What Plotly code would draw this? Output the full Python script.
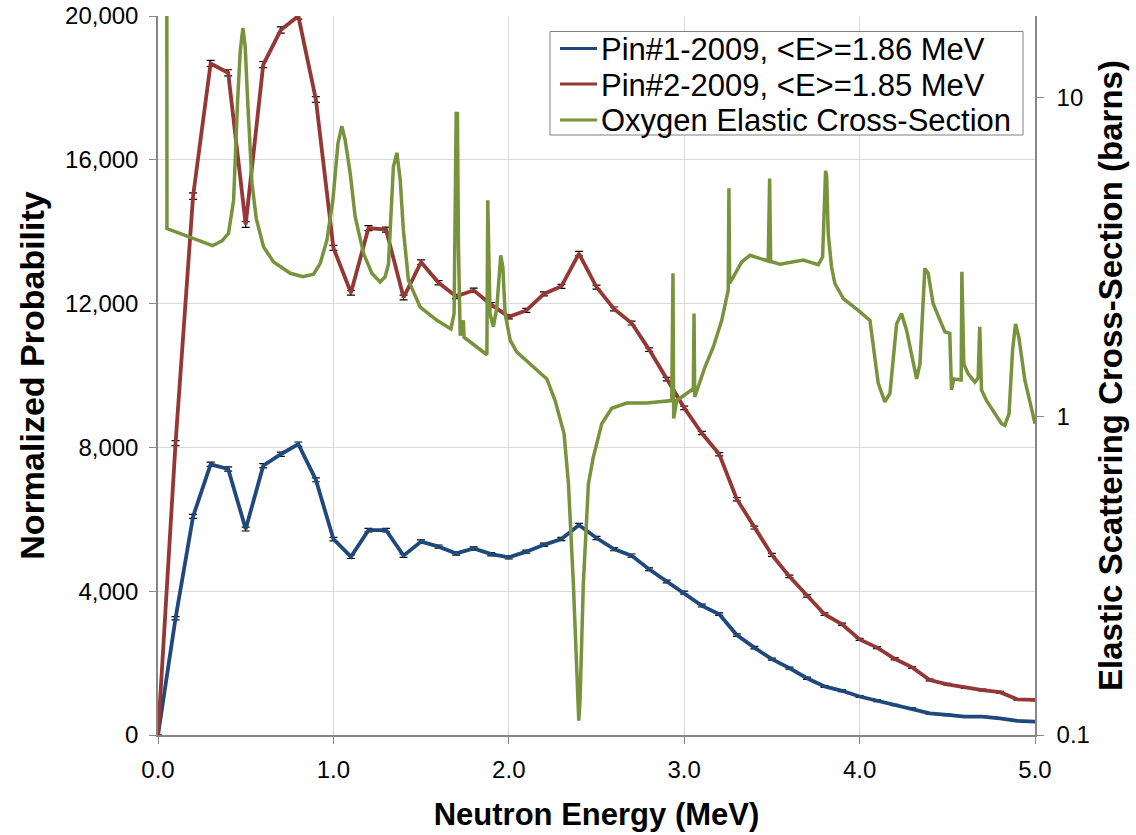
import plotly.graph_objects as go

# ---------------- data ----------------
energy = [0.0, 0.1, 0.2, 0.3, 0.4, 0.5, 0.6, 0.7, 0.8, 0.9,
          1.0, 1.1, 1.2, 1.3, 1.4, 1.5, 1.6, 1.7, 1.8, 1.9,
          2.0, 2.1, 2.2, 2.3, 2.4, 2.5, 2.6, 2.7, 2.8, 2.9,
          3.0, 3.1, 3.2, 3.3, 3.4, 3.5, 3.6, 3.7, 3.8, 3.9,
          4.0, 4.1, 4.2, 4.3, 4.4, 4.5, 4.6, 4.7, 4.8, 4.9, 5.0]

pin1 = [0, 3250, 6080, 7530, 7400, 5730, 7490, 7810, 8090, 7100,
        5450, 4960, 5700, 5700, 4990, 5380, 5240, 5050, 5190, 5030,
        4940, 5100, 5290, 5450, 5840, 5480, 5170, 4990, 4610, 4270,
        3960, 3600, 3360, 2780, 2430, 2110, 1860, 1580, 1350, 1230,
        1070, 950, 835, 735, 600, 560, 510, 510, 465, 390, 370]

pin1_err = [0, 45, 55, 60, 60, 55, 60, 60, 60, 55,
            50, 50, 50, 50, 50, 50, 45, 45, 45, 45,
            45, 45, 45, 45, 45, 45, 45, 45, 40, 40,
            40, 40, 35, 35, 35, 30, 30, 30, 25, 25,
            25, 25, 20, 20, 20, 20, 20, 20, 20, 15, 15]

pin2 = [0, 8120, 14990, 18680, 18420, 14200, 18650, 19610, 20000, 17680,
        13550, 12300, 14100, 14060, 12170, 13150, 12580, 12200, 12370, 11970,
        11630, 11810, 12270, 12480, 13390, 12460, 11850, 11460, 10720, 9900,
        9100, 8400, 7810, 6560, 5770, 5010, 4410, 3870, 3360, 3080,
        2660, 2430, 2120, 1880, 1530, 1410, 1320, 1250, 1190, 990, 975]

pin2_err = [0, 70, 90, 85, 85, 80, 85, 85, 85, 80,
            70, 65, 70, 70, 65, 65, 60, 60, 60, 60,
            55, 55, 55, 55, 60, 55, 55, 55, 50, 50,
            50, 45, 45, 45, 40, 40, 35, 35, 35, 30,
            30, 30, 30, 25, 25, 25, 25, 25, 25, 20, 20]

oxy_energy = [0.050, 0.051, 0.311, 0.365, 0.402, 0.431, 0.454, 0.469, 0.484, 0.497,
              0.511, 0.536, 0.560, 0.602, 0.659, 0.754, 0.826, 0.887, 0.925, 0.963,
              0.997, 1.026, 1.048, 1.067, 1.096, 1.124, 1.172, 1.219, 1.267, 1.295,
              1.314, 1.333, 1.342, 1.362, 1.381, 1.399, 1.428, 1.495, 1.590, 1.670,
              1.688, 1.700, 1.707, 1.713, 1.723, 1.741, 1.745, 1.875, 1.880, 1.893,
              1.912, 1.932, 1.954, 1.966, 1.979, 2.008, 2.046, 2.217, 2.264, 2.315,
              2.340, 2.368, 2.387, 2.399, 2.406, 2.425, 2.454, 2.482, 2.530, 2.587,
              2.672, 2.786, 2.929, 2.936, 2.940, 2.957, 3.052, 3.056, 3.060, 3.119,
              3.166, 3.214, 3.251, 3.255, 3.259, 3.328, 3.375, 3.479, 3.487, 3.493,
              3.546, 3.679, 3.764, 3.789, 3.806, 3.812, 3.821, 3.840, 3.859, 3.907,
              3.992, 4.059, 4.106, 4.144, 4.173, 4.211, 4.239, 4.268, 4.325, 4.344,
              4.372, 4.391, 4.419, 4.457, 4.486, 4.514, 4.524, 4.537, 4.562, 4.579,
              4.583, 4.594, 4.619, 4.657, 4.676, 4.685, 4.695, 4.724, 4.809, 4.828,
              4.852, 4.872, 4.889, 4.908, 4.942, 5.000]

oxy_xs = [40.0, 3.88, 3.43, 3.55, 3.75, 4.76, 9.82, 14.0, 16.5, 14.5,
          9.82, 5.38, 4.18, 3.40, 3.05, 2.81, 2.74, 2.79, 3.02, 3.57,
          4.76, 7.18, 8.14, 7.36, 5.78, 4.23, 3.24, 2.81, 2.64, 2.74,
          3.00, 4.76, 6.07, 6.71, 5.51, 3.84, 2.67, 2.20, 2.00, 1.88,
          2.10, 8.91, 8.91, 3.40, 1.79, 2.00, 1.77, 1.56, 4.76, 2.10,
          1.91, 2.20, 3.20, 2.94, 2.10, 1.73, 1.59, 1.31, 1.12, 0.883,
          0.615, 0.299, 0.163, 0.111, 0.128, 0.299, 0.615, 0.745, 0.948, 1.06,
          1.10, 1.10, 1.12, 2.81, 0.985, 1.12, 1.22, 2.10, 1.15, 1.43,
          1.65, 2.00, 2.49, 5.19, 2.61, 3.05, 3.20, 3.07, 5.57, 3.06,
          3.00, 3.09, 2.99, 3.16, 5.89, 5.70, 3.75, 2.94, 2.61, 2.34,
          2.15, 2.00, 1.27, 1.11, 1.18, 1.95, 2.10, 1.86, 1.31, 1.46,
          2.91, 2.81, 2.26, 2.00, 1.84, 1.82, 1.21, 1.31, 1.30, 1.30,
          2.84, 1.46, 1.36, 1.28, 1.32, 1.91, 1.21, 1.12, 0.948, 0.937,
          1.02, 1.61, 1.95, 1.77, 1.30, 0.948]

names = ["Pin#1-2009, <E>=1.86 MeV",
         "Pin#2-2009, <E>=1.85 MeV",
         "Oxygen Elastic Cross-Section"]

x_ticks = [0, 1, 2, 3, 4, 5]
y_ticks = [0, 4000, 8000, 12000, 16000, 20000]
y2_ticks = [0.1, 1, 10]
y2_ticktext = ["0.1", "1", "10"]

# ---------------- styles ----------------
BLUE = "#1F497D"
RED = "#953735"
GREEN = "#77933C"
AXIS = "#868686"
GRID = "#D9D9D9"
FONT = "Liberation Sans, Arial, sans-serif"
colors = [BLUE, RED, GREEN]

fig = go.Figure()

fig.add_trace(go.Scatter(
    x=energy, y=pin1, name=names[0], mode="lines",
    line=dict(color=BLUE, width=3.8),
    error_y=dict(type="data", array=pin1_err, color="black", thickness=1.2, width=4),
    yaxis="y", showlegend=False))

fig.add_trace(go.Scatter(
    x=energy, y=pin2, name=names[1], mode="lines",
    line=dict(color=RED, width=3.8),
    error_y=dict(type="data", array=pin2_err, color="black", thickness=1.2, width=4),
    yaxis="y", showlegend=False))

fig.add_trace(go.Scatter(
    x=oxy_energy, y=oxy_xs, name=names[2], mode="lines",
    line=dict(color=GREEN, width=3.5),
    yaxis="y2", showlegend=False))

# ---------------- legend box (paper coordinates) ----------------
L, R, T, B = 158, 1035, 16, 735
def px(x):
    return (x - L) / (R - L)
def py(y):
    return (B - y) / (B - T)

fig.add_shape(type="rect", xref="paper", yref="paper",
              x0=px(550), x1=px(1023), y0=py(135), y1=py(31.5),
              line=dict(color="#808080", width=1), fillcolor="white", layer="above")
row_y = [48.5, 84, 120]
for i in range(3):
    fig.add_shape(type="line", xref="paper", yref="paper",
                  x0=px(560), x1=px(597), y0=py(row_y[i]), y1=py(row_y[i]),
                  line=dict(color=colors[i], width=3), layer="above")
    fig.add_annotation(xref="paper", yref="paper", x=px(599), y=py(row_y[i] + 1),
                       xanchor="left", yanchor="middle", showarrow=False,
                       text=names[i].replace("<", "&lt;").replace(">", "&gt;"),
                       font=dict(family=FONT, size=31, color="black"))

fig.update_layout(
    width=1136, height=835,
    margin=dict(l=L, r=1136 - R, t=T, b=835 - B, pad=0),
    paper_bgcolor="white", plot_bgcolor="white",
    font=dict(family=FONT, color="black", size=24),
    showlegend=False,
    xaxis=dict(
        range=[0, 5], tickvals=x_ticks, tickformat=".1f",
        showgrid=True, gridcolor=GRID, gridwidth=1,
        showline=True, linecolor=AXIS, linewidth=1.5,
        ticks="outside", ticklen=7, tickcolor=AXIS,
        tickfont=dict(size=24), zeroline=False, automargin=False,
        ticklabelstandoff=5,
        title=dict(text="<b>Neutron Energy (MeV)</b>",
                   font=dict(size=31), standoff=22),
    ),
    yaxis=dict(
        range=[0, 20000], tickvals=y_ticks, tickformat=",d",
        showgrid=True, gridcolor=GRID, gridwidth=1,
        showline=True, linecolor=AXIS, linewidth=1.5,
        ticks="outside", ticklen=7, tickcolor=AXIS,
        tickfont=dict(size=24), zeroline=False, automargin=False,
        ticklabelstandoff=6,
        title=dict(text="<b>Normalized Probability</b>",
                   font=dict(size=34), standoff=10),
    ),
    yaxis2=dict(
        type="log", range=[-1, 1.256], overlaying="y", side="right",
        tickvals=y2_ticks, ticktext=y2_ticktext,
        showgrid=False, showline=True, linecolor=AXIS, linewidth=1.5,
        ticks="outside", ticklen=7, tickcolor=AXIS,
        tickfont=dict(size=24), zeroline=False, automargin=False,
        ticklabelstandoff=8,
        title=dict(text="<b>Elastic Scattering Cross-Section (barns)</b>",
                   font=dict(size=33), standoff=10),
    ),
)

fig.write_html("out.html")
